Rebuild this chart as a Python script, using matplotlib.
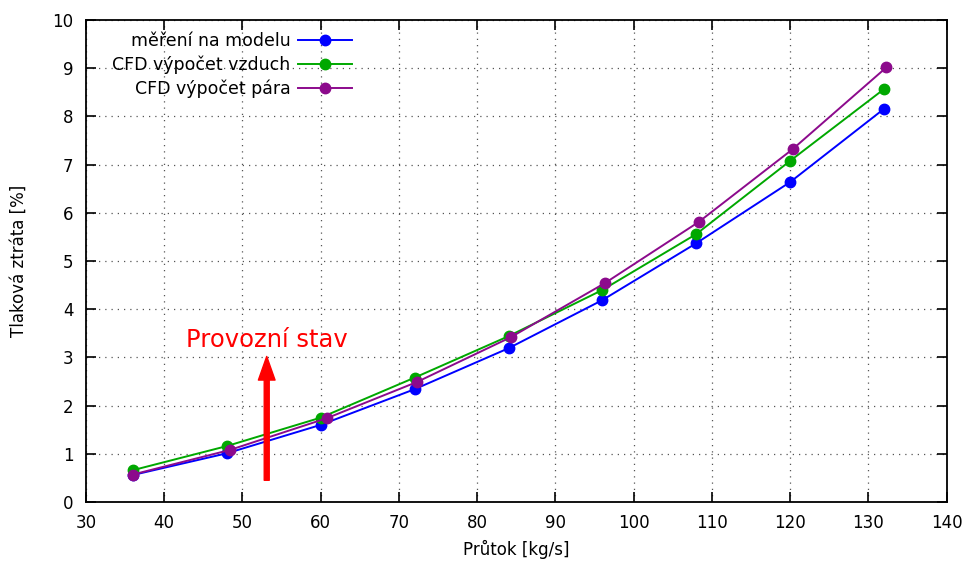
"""
Tlaková ztráta vs. průtok - měření na modelu a CFD výpočty
"""
import matplotlib
matplotlib.use('Agg')
import matplotlib.pyplot as plt

# data
flow = [36, 48, 60, 72, 84, 96, 108, 120, 132]
flow_steam = [36, 48.4, 60.8, 72.3, 84.3, 96.3, 108.3, 120.3, 132.3]
loss_model = [0.56, 1.01, 1.60, 2.34, 3.19, 4.19, 5.37, 6.64, 8.16]
loss_cfd_air = [0.66, 1.16, 1.75, 2.58, 3.44, 4.40, 5.56, 7.08, 8.57]
loss_cfd_steam = [0.57, 1.08, 1.74, 2.49, 3.42, 4.54, 5.81, 7.32, 9.02]

labels = ['měření na modelu', 'CFD výpočet vzduch', 'CFD výpočet pára']
colors = ['#0000ff', '#00a800', '#8c0a8c']

xticks = list(range(30, 141, 10))
yticks = list(range(0, 11))

plt.rcParams['font.family'] = 'DejaVu Sans'

fig = plt.figure(figsize=(9.66, 5.75), dpi=100)
ax = fig.add_axes([0.089, 0.127, 0.891, 0.838])

ax.plot(flow, loss_model, color=colors[0], lw=1.4, marker='o', ms=7.5, label=labels[0])
ax.plot(flow, loss_cfd_air, color=colors[1], lw=1.4, marker='o', ms=7.5, label=labels[1])
ax.plot(flow_steam, loss_cfd_steam, color=colors[2], lw=1.4, marker='o', ms=7.5, label=labels[2])

# operating point marker
ax.annotate('', xy=(53.1, 3.02), xytext=(53.1, 0.45),
            arrowprops=dict(facecolor='red', edgecolor='red', width=3.6,
                            headwidth=12, headlength=17))
ax.text(53.1, 3.37, 'Provozní stav', color='red', fontsize=17.5,
        ha='center', va='center')

ax.set_xlim(30, 140)
ax.set_ylim(0, 10)
ax.set_xticks(xticks)
ax.set_yticks(yticks)
ax.tick_params(direction='in', length=7, width=1.2, top=True, right=True,
               labelsize=12, pad=9)
for s in ax.spines.values():
    s.set_linewidth(1.3)
ax.grid(True, color='#555555', linestyle=(0, (1, 4)), linewidth=0.9)

ax.set_xlabel('Průtok [kg/s]', fontsize=12)
ax.set_ylabel('Tlaková ztráta [%]', fontsize=12)
ax.xaxis.set_label_coords(0.5, -0.078)
ax.yaxis.set_label_coords(-0.068, 0.5)

ax.legend(loc='upper right', frameon=False, markerfirst=False, fontsize=12.5,
          handlelength=3.1, handletextpad=0.45, labelspacing=0.3,
          borderaxespad=0, borderpad=0, bbox_to_anchor=(0.309, 0.975))

plt.savefig('out.png', dpi=100)
